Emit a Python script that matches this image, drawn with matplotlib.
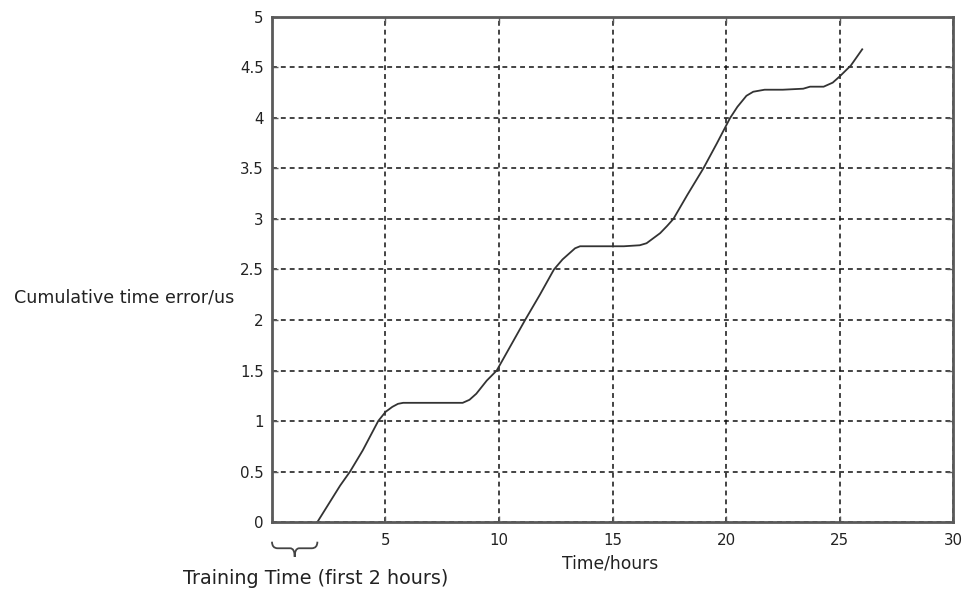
import matplotlib

matplotlib.use("Agg")
import matplotlib.pyplot as plt
from matplotlib.path import Path
from matplotlib.patches import PathPatch
from matplotlib.transforms import blended_transform_factory

# cumulative time error read per hour (training during the first 2 hours)
hours = [2.0, 2.5, 3.0, 3.44, 4.0, 4.68, 5.0, 5.3, 5.55, 5.78, 6.5, 7.5,
         8.4, 8.7, 9.0, 9.46, 9.9, 10.5, 11.15, 11.8, 12.42, 12.8, 13.1,
         13.35, 13.57, 14.5, 15.5, 16.2, 16.5, 16.8, 17.1, 17.4, 17.68, 18.3,
         19.0, 19.6, 20.18, 20.5, 20.9, 21.2, 21.7, 22.5, 23.4, 23.7, 24.3,
         24.7, 25.0, 25.5, 26.0]
error_us = [0.0, 0.18, 0.36, 0.5, 0.71, 1.0, 1.09, 1.14, 1.17, 1.18, 1.18,
            1.18, 1.18, 1.21, 1.27, 1.40, 1.5, 1.74, 2.0, 2.25, 2.5, 2.6,
            2.66, 2.71, 2.73, 2.73, 2.73, 2.74, 2.76, 2.81, 2.86, 2.93, 3.0,
            3.24, 3.5, 3.75, 4.0, 4.11, 4.22, 4.26, 4.28, 4.28, 4.29, 4.31,
            4.31, 4.35, 4.41, 4.52, 4.68]

x_ticks = [0, 5, 10, 15, 20, 25, 30]
x_ticklabels = ["", "5", "10", "15", "20", "25", "30"]
y_ticks = [0, 0.5, 1, 1.5, 2, 2.5, 3, 3.5, 4, 4.5, 5]
y_ticklabels = ["0", "0.5", "1", "1.5", "2", "2.5", "3", "3.5", "4", "4.5", "5"]
training_hours = (0, 2)

plt.rcParams["font.family"] = ["DejaVu Sans"]
text_color = "#222222"
spine_color = "#5a5a5a"
H = 594  # figure height in pixels, used to place the free-standing labels

fig = plt.figure(figsize=(9.70, 5.94), dpi=100)
ax = fig.add_axes([0.2804, 0.1212, 0.7021, 0.8502])

ax.plot(hours, error_us, color="#333333", linewidth=1.3)

ax.set_xlim(0, 30)
ax.set_ylim(0, 5)
ax.set_xticks(x_ticks)
ax.set_xticklabels(x_ticklabels)
ax.set_yticks(y_ticks)
ax.set_yticklabels(y_ticklabels)
ax.tick_params(direction="in", length=4, width=1.0, colors=spine_color,
               labelcolor=text_color, labelsize=10.8, top=True, right=True)
ax.tick_params(axis="x", pad=8)
ax.tick_params(axis="y", pad=6)

ax.grid(True, color="#111111", linestyle=(0, (3.2, 2.6)), linewidth=1.1)
for spine in ax.spines.values():
    spine.set_color(spine_color)
    spine.set_linewidth(2.0)

# axis captions sit in pixel positions, matlab style
ax.text(562, H - 563, "Time/hours", transform=None, ha="left", va="center",
        fontsize=12.3, color=text_color)
ax.text(14, H - 297, "Cumulative time error/us", transform=None,
        ha="left", va="center", fontsize=12.6, color=text_color)

# curly brace marking the training window under the x axis
trans = blended_transform_factory(ax.transData, ax.transAxes)
x0, x1 = training_hours
xm = (x0 + x1) / 2
top, mid, tip = -0.039, -0.052, -0.069
verts = [
    (x0, top), (x0, mid), (x0 + 0.25, mid),
    (xm - 0.2, mid),
    (xm, mid), (xm, tip),
    (xm, mid), (xm + 0.2, mid),
    (x1 - 0.25, mid),
    (x1, mid), (x1, top),
]
codes = [Path.MOVETO, Path.CURVE3, Path.CURVE3,
         Path.LINETO,
         Path.CURVE3, Path.CURVE3,
         Path.CURVE3, Path.CURVE3,
         Path.LINETO,
         Path.CURVE3, Path.CURVE3]
brace = PathPatch(Path(verts, codes), transform=trans, fill=False,
                  edgecolor="#444444", linewidth=1.3, clip_on=False)
ax.add_patch(brace)

ax.text(183, H - 578, "Training Time (first 2 hours)", transform=None,
        ha="left", va="center", fontsize=13.8, color=text_color)

fig.savefig("out.png", dpi=100, facecolor="white")
